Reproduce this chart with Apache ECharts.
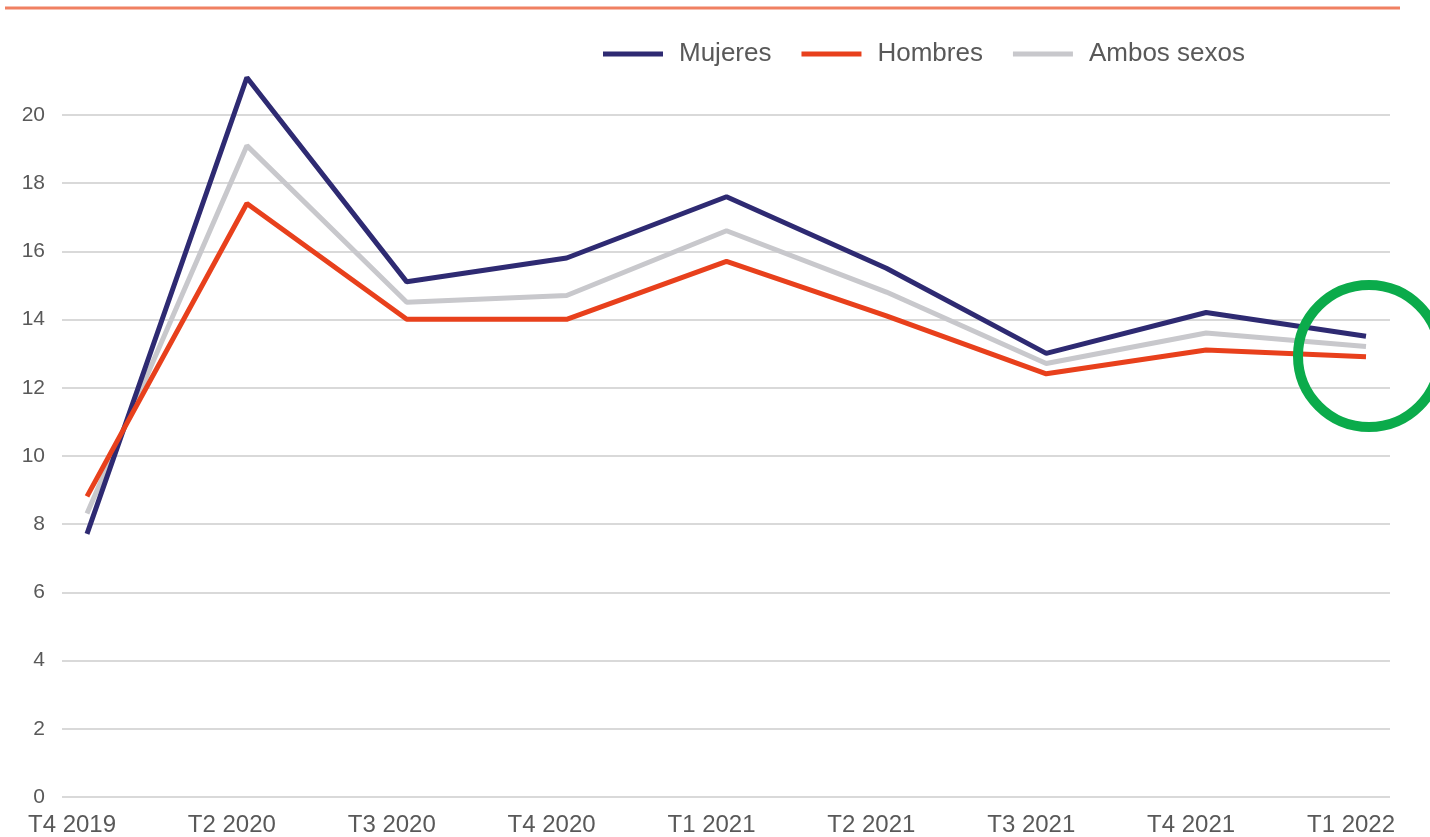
<!DOCTYPE html>
<html>
<head>
<meta charset="utf-8">
<script src="https://cdn.jsdelivr.net/npm/echarts@6/dist/echarts.min.js"></script>
<style>
  html, body { margin: 0; padding: 0; background: #fff; }
  #chart { width: 1430px; height: 837px; }
</style>
</head>
<body>
<div id="chart"></div>
<script>
const quarters = ['T4 2019', 'T2 2020', 'T3 2020', 'T4 2020', 'T1 2021', 'T2 2021', 'T3 2021', 'T4 2021', 'T1 2022']
const mujeres = [7.7, 21.1, 15.1, 15.8, 17.6, 15.5, 13.0, 14.2, 13.5]
const hombres = [8.8, 17.4, 14.0, 14.0, 15.7, 14.1, 12.4, 13.1, 12.9]
const ambos = [8.3, 19.1, 14.5, 14.7, 16.6, 14.8, 12.7, 13.6, 13.2]
const yTicks = { min: 0, max: 20, interval: 2 }

const font = 'Liberation Sans, Arial, sans-serif'
const textColor = '#595959'
const gridColor = '#d9d9d9'
const colors = ['#2e2a72', '#e8401c', '#c8c8cc']

const chart = echarts.init(document.getElementById('chart'))

const option = {
  animation: false,
  textStyle: { fontFamily: font },
  legend: {
    data: ['Mujeres', 'Hombres', 'Ambos sexos'],
    left: 598,
    top: 36,
    icon: 'rect',
    itemWidth: 60,
    itemHeight: 5,
    itemGap: 30,
    textStyle: { color: textColor, fontSize: 26, fontFamily: font, padding: [0, 0, 0, 11] }
  },
  // grid 0: wide area for gridlines and y labels; grid 1: plotting area for lines
  grid: [
    { left: 62, right: 40, top: 115, bottom: 40 },
    { left: 87, right: 64, top: 115, bottom: 40 }
  ],
  xAxis: [
    { gridIndex: 0, type: 'value', show: false, min: 0, max: 1 },
    {
      gridIndex: 1,
      type: 'category',
      data: quarters,
      boundaryGap: false,
      axisLine: { show: false },
      axisTick: { show: false },
      axisLabel: {
        color: textColor,
        fontSize: 24,
        margin: 17,
        padding: [0, 30, 0, 0],
        interval: 0
      }
    }
  ],
  yAxis: [
    {
      gridIndex: 0,
      type: 'value',
      ...yTicks,
      axisLine: { show: false },
      axisTick: { show: false },
      axisLabel: { color: textColor, fontSize: 21, margin: 17 },
      splitLine: { lineStyle: { color: gridColor, width: 2 } }
    },
    {
      gridIndex: 1,
      type: 'value',
      ...yTicks,
      show: false,
      splitLine: { show: false }
    }
  ],
  series: [
    { name: 'Mujeres', data: mujeres, color: colors[0] },
    { name: 'Hombres', data: hombres, color: colors[1] },
    { name: 'Ambos sexos', data: ambos, color: colors[2] }
  ].map(s => ({
    ...s,
    type: 'line',
    xAxisIndex: 1,
    yAxisIndex: 1,
    clip: false,
    symbol: 'none',
    lineStyle: { width: 5, color: s.color },
    z: s.name === 'Ambos sexos' ? 1 : 2
  })),
  graphic: [
    {
      type: 'line',
      shape: { x1: 5, y1: 8, x2: 1400, y2: 8 },
      style: { stroke: '#f08062', lineWidth: 3 }
    },
    {
      type: 'circle',
      shape: { cx: 1369, cy: 356, r: 71 },
      style: { fill: 'none', stroke: '#0bab4b', lineWidth: 10 },
      z: 100
    }
  ]
}

chart.setOption(option)
</script>
</body>
</html>
